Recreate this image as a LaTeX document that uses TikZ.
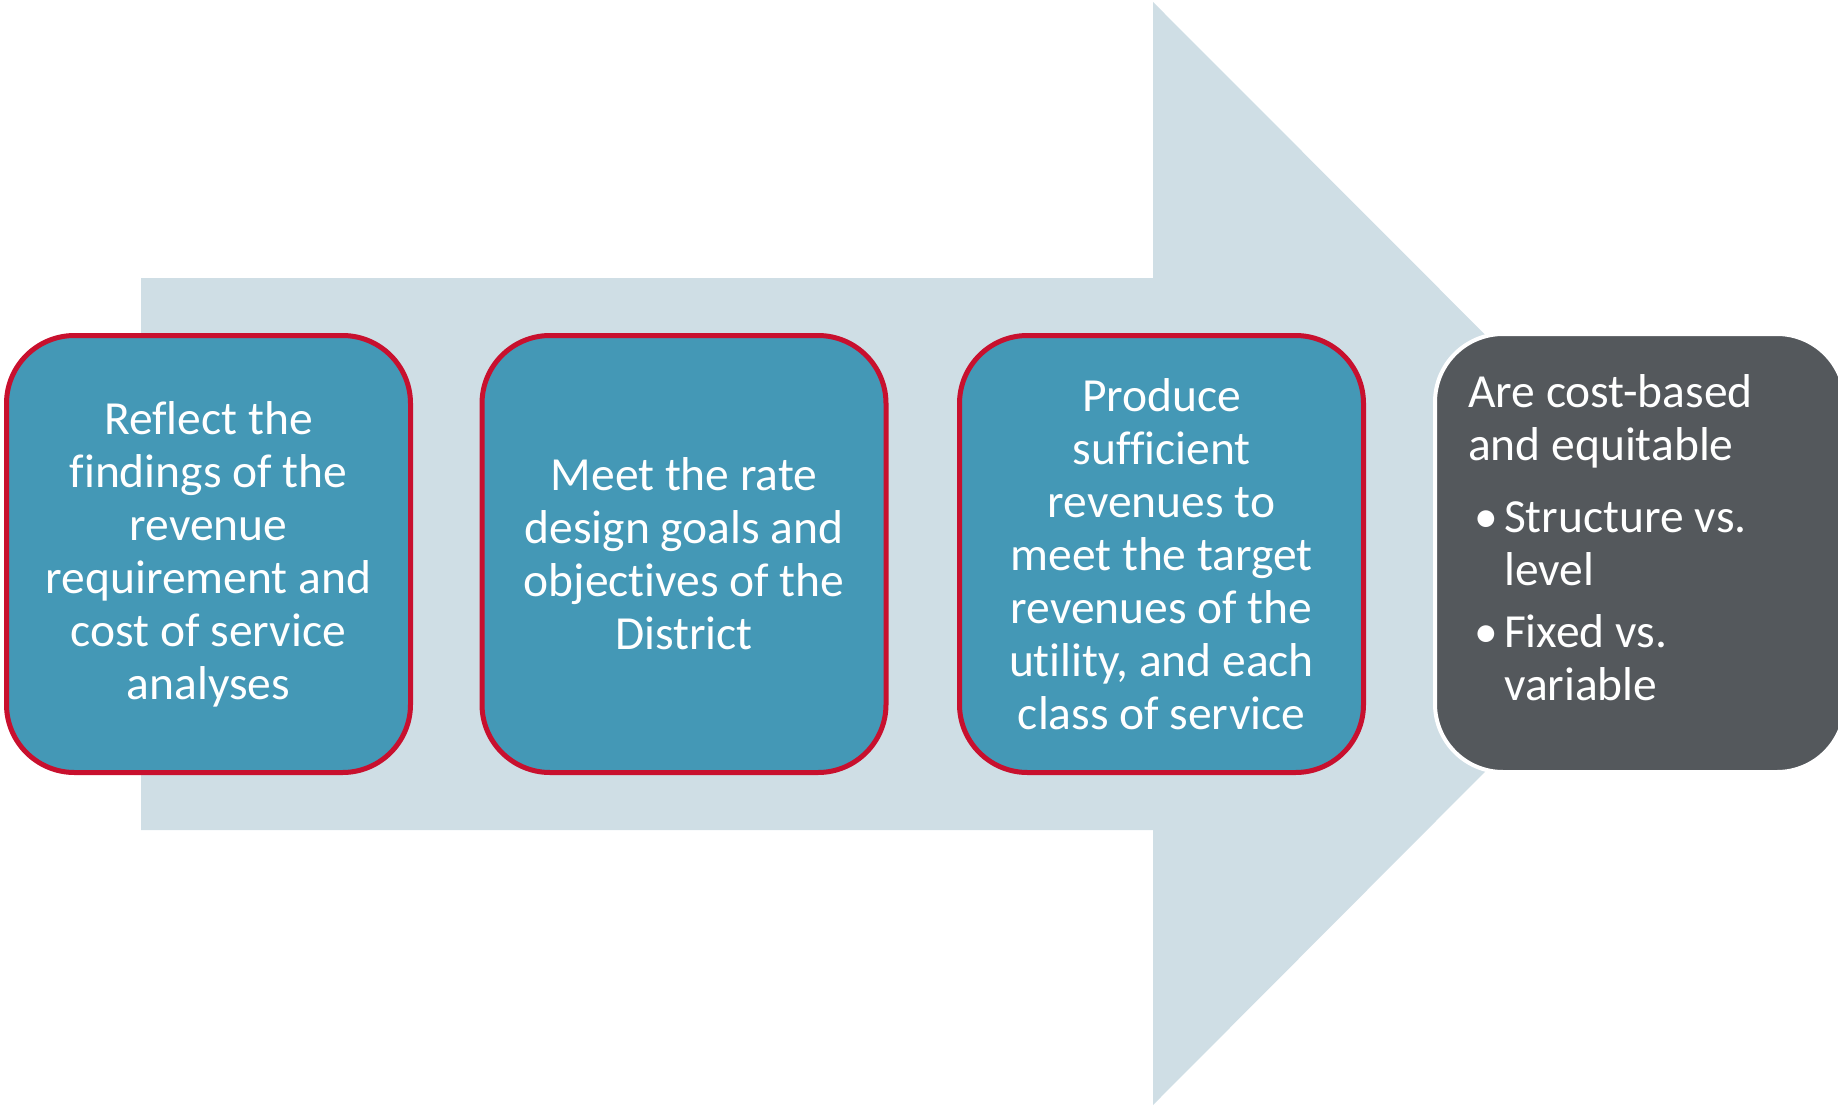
\documentclass[tikz,border=0pt]{standalone}
\usepackage{fontspec}
\setmainfont[Ligatures=NoCommon]{Carlito}
\definecolor{arrowgrey}{RGB}{207,222,229}
\definecolor{boxteal}{RGB}{68,152,182}
\definecolor{boxred}{RGB}{200,16,46}
\definecolor{boxdark}{RGB}{84,88,92}
\begin{document}
\begin{tikzpicture}[x=1pt,y=-1pt,
  goalbox/.style={draw=boxred,line width=5pt,fill=boxteal,rounded corners=68pt,
    minimum width=404pt,minimum height=437pt,text=white,align=center,
    font=\fontsize{47.5}{53}\selectfont},
  resultbox/.style={draw=white,line width=4pt,fill=boxdark,rounded corners=68pt,
    minimum width=410pt,minimum height=438pt}]
\useasboundingbox (0,0) rectangle (1838,1107);
% big arrow behind the boxes
\fill[arrowgrey](141,278)--(1153,278)--(1153,2)--(1703,553)--(1153,1105)--(1153,830)--(141,830)--cycle;
\node[goalbox](reflect) at (208.5,554){Reflect the\\findings of the\\revenue\\requirement and\\cost of service\\analyses};
\node[goalbox](meet) at (684,554){Meet the rate\\design goals and\\objectives of the\\District};
\node[goalbox](produce) at (1161.5,554){Produce\\sufficient\\revenues to\\meet the target\\revenues of the\\utility, and each\\class of service};
\node[resultbox](costbased) at (1640,553){};
\node[anchor=north west,inner sep=0pt,text=white,align=left,font=\fontsize{47.5}{53}\selectfont]
  (costtext) at (1468,374){Are cost-based\\and equitable\\[19pt]
  \hspace*{6pt}\makebox[30pt][l]{•}Structure vs.\\\hspace*{36pt}level\\[9pt]
  \hspace*{6pt}\makebox[30pt][l]{•}Fixed vs.\\\hspace*{36pt}variable};
\end{tikzpicture}
\end{document}
